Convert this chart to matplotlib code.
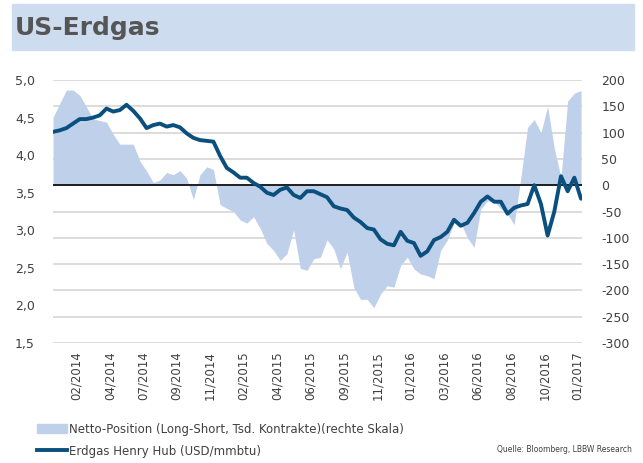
import pandas as pd
import matplotlib
matplotlib.use("Agg")
import matplotlib.pyplot as plt
from matplotlib.patches import Rectangle, Patch
from matplotlib.lines import Line2D

plt.rcParams["font.family"] = ["Liberation Sans Narrow", "DejaVu Sans"]
plt.rcParams["axes.unicode_minus"] = False

dates = pd.date_range("2013-12-31", periods=80, freq="14D")

# Netto-Position (Tsd. Kontrakte), right scale
net_position = [
    129, 155, 181, 181, 171, 149, 126, 123, 120, 97,
    78, 78, 78, 46, 27, 5, 10, 24, 20, 28,
    13, -27, 20, 35, 30, -37, -44, -50, -66, -72,
    -60, -82, -111, -124, -143, -130, -85, -158, -162, -140,
    -137, -104, -121, -159, -127, -194, -217, -217, -233, -207,
    -191, -194, -153, -137, -159, -169, -172, -178, -124, -104,
    -72, -72, -100, -118, -45, -30, -30, -45, -55, -75,
    15, 110, 125, 100, 150, 70, 15, 160, 175, 180,
]

# Erdgas Henry Hub (USD/mmbtu), left scale
henry_hub = [
    4.31, 4.33, 4.36, 4.42, 4.48, 4.48, 4.50, 4.53, 4.62, 4.58,
    4.60, 4.67, 4.59, 4.49, 4.36, 4.40, 4.42, 4.38, 4.40, 4.37,
    4.29, 4.23, 4.20, 4.19, 4.18, 3.99, 3.83, 3.77, 3.70, 3.70,
    3.63, 3.58, 3.50, 3.47, 3.54, 3.57, 3.47, 3.43, 3.52, 3.52,
    3.48, 3.44, 3.32, 3.29, 3.27, 3.17, 3.11, 3.03, 3.01, 2.88,
    2.82, 2.80, 2.98, 2.86, 2.83, 2.66, 2.72, 2.87, 2.91, 2.98,
    3.14, 3.06, 3.10, 3.23, 3.38, 3.45, 3.38, 3.38, 3.22, 3.30,
    3.33, 3.35, 3.60, 3.35, 2.93, 3.25, 3.72, 3.52, 3.70, 3.42,
]

tick_dates = pd.date_range("2014-02-18", periods=16, freq="70D")
tick_labels = [d.strftime("%m/%Y") for d in tick_dates]
left_ticks = [1.5, 2.0, 2.5, 3.0, 3.5, 4.0, 4.5, 5.0]
right_ticks = list(range(-300, 201, 50))

area_color = "#bfd1ea"
line_color = "#0b4f7f"
text_color = "#404040"

W, H = 643, 463
fig = plt.figure(figsize=(W / 100, H / 100), dpi=100)

# title band
fig.patches.append(Rectangle((12 / W, 1 - 50 / H), 622 / W, 46 / H,
                             transform=fig.transFigure, color="#cedcf0", zorder=0))
fig.text(15 / W, 1 - 28 / H, "US-Erdgas", fontsize=18, fontweight="bold",
         color="#555555", va="center", ha="left")

ax = fig.add_axes([53 / W, 1 - 343 / H, 529 / W, 263 / H])
ax.fill_between(dates, 0, net_position, color=area_color, lw=0, zorder=2)
ax.axhline(0, color="black", lw=1.2, zorder=3)
ax.set_ylim(-300, 200)
ax.set_yticks(right_ticks)
ax.set_yticklabels([str(v) for v in right_ticks])
ax.grid(axis="y", color="#d9d9d9", lw=1.3)
ax.set_axisbelow(True)
ax.set_xlim(pd.Timestamp("2013-12-31"), pd.Timestamp("2017-01-12"))
ax.set_xticks(tick_dates)
ax.set_xticklabels(tick_labels, rotation=90)
ax.tick_params(axis="x", length=0, pad=6, labelsize=8.5, colors=text_color)
for s in ax.spines.values():
    s.set_visible(False)

ax2 = ax.twinx()
ax2.plot(dates, henry_hub, color=line_color, lw=2.8, solid_joinstyle="round",
         solid_capstyle="round")
ax2.set_ylim(1.5, 5.0)
ax2.set_yticks(left_ticks)
ax2.set_yticklabels([f"{v:.1f}".replace(".", ",") for v in left_ticks])
for s in ax2.spines.values():
    s.set_visible(False)

# twinx puts the first axis on the left, so swap sides afterwards
ax.yaxis.tick_right()
ax2.yaxis.tick_left()
ax.tick_params(axis="y", length=0, pad=14, labelsize=9, colors=text_color)
ax2.tick_params(axis="y", length=0, pad=13, labelsize=9, colors=text_color)

handles = [Patch(color=area_color), Line2D([], [], color=line_color, lw=2.8)]
labels = ["Netto-Position (Long-Short, Tsd. Kontrakte)(rechte Skala)",
          "Erdgas Henry Hub (USD/mmbtu)"]
fig.legend(handles, labels, loc="upper left", bbox_to_anchor=(32 / W, 1 - 418 / H),
           frameon=False, fontsize=8.5, handlelength=2.6, handletextpad=0.1,
           labelspacing=0.75, borderaxespad=0, labelcolor=text_color)

fig.text(632 / W, 1 - 450 / H, "Quelle: Bloomberg, LBBW Research", fontsize=5.5,
         color=text_color, ha="right", va="center")

fig.savefig("out.png", dpi=100)
